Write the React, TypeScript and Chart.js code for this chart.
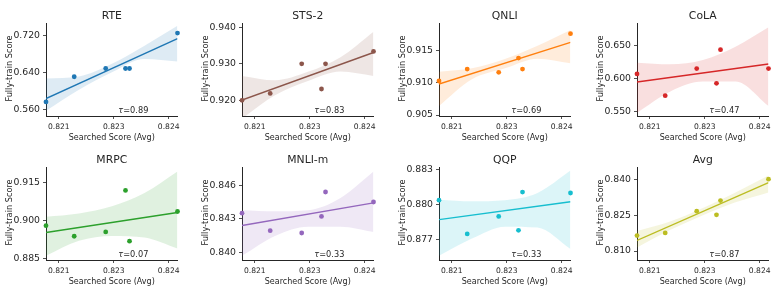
import React, { useEffect, useRef } from "react";
import { Chart, registerables } from "chart.js";

Chart.register(...registerables);

// ---- shared x data ----
const searchedScores = [0.82065, 0.82142, 0.82228, 0.82282, 0.82293, 0.82424];
const bandX = [0.82065, 0.82155, 0.82245, 0.82334, 0.82424];
const xTicks = [0.821, 0.8225, 0.824];
const xMin = 0.82065;
const xMax = 0.82424;

const taskNames = ["RTE", "STS-2", "QNLI", "CoLA", "MRPC", "MNLI-m", "QQP", "Avg"];
const taskColors = ["#1f77b4", "#8c564b", "#ff7f0e", "#d62728", "#2ca02c", "#9467bd", "#17becf", "#bcbd22"];
const kendallTau = ["0.89", "0.83", "0.69", "0.47", "0.07", "0.33", "0.33", "0.87"];

// ---- per-task fully-train scores, CI band edges, y ticks and ranges ----
const rteScores = [0.5771, 0.6314, 0.6493, 0.6493, 0.6493, 0.7257];
const rteUpper = [0.6279, 0.6321, 0.6593, 0.6986, 0.7414];
const rteLower = [0.5579, 0.6036, 0.6414, 0.670, 0.6643];
const rteTicks = [0.56, 0.64, 0.72];
const rteRange = [0.5467, 0.7475];

const stsScores = [0.92, 0.9219, 0.93, 0.9231, 0.93, 0.9334];
const stsUpper = [0.9267, 0.9255, 0.9278, 0.9318, 0.9388];
const stsLower = [0.915, 0.9214, 0.9253, 0.9279, 0.9267];
const stsTicks = [0.92, 0.93, 0.94];
const stsRange = [0.9157, 0.9412];

const qnliScores = [0.91026, 0.91211, 0.9116, 0.91381, 0.91211, 0.91758];
const qnliUpper = [0.9117, 0.91222, 0.91366, 0.91572, 0.91814];
const qnliLower = [0.9064, 0.91052, 0.91222, 0.91371, 0.91299];
const qnliTicks = [0.905, 0.91, 0.915];
const qnliRange = [0.90485, 0.91923];

const colaScores = [0.6071, 0.5742, 0.6152, 0.5929, 0.6439, 0.6152];
const colaUpper = [0.6242, 0.6217, 0.6283, 0.6485, 0.6778];
const colaLower = [0.5485, 0.5803, 0.5955, 0.5955, 0.5586];
const colaTicks = [0.55, 0.6, 0.65];
const colaRange = [0.5434, 0.6843];

const mrpcScores = [0.89803, 0.89384, 0.89555, 0.91205, 0.89188, 0.90367];
const mrpcUpper = [0.90157, 0.90288, 0.90576, 0.911, 0.91952];
const mrpcLower = [0.88611, 0.89201, 0.89397, 0.89332, 0.889];
const mrpcTicks = [0.885, 0.9, 0.915];
const mrpcRange = [0.88441, 0.92135];

const mnliScores = [0.8435, 0.84193, 0.84172, 0.84321, 0.84541, 0.84451];
const mnliUpper = [0.84377, 0.84368, 0.84377, 0.84487, 0.84725];
const mnliLower = [0.83967, 0.84146, 0.84229, 0.84229, 0.84181];
const mnliTicks = [0.84, 0.843, 0.846];
const mnliRange = [0.83929, 0.84766];

const qqpScores = [0.8804, 0.87751, 0.87901, 0.87782, 0.8811, 0.88102];
const qqpUpper = [0.88045, 0.88031, 0.8804, 0.88102, 0.88294];
const qqpLower = [0.87564, 0.87711, 0.87813, 0.87805, 0.87621];
const qqpTicks = [0.877, 0.88, 0.883];
const qqpRange = [0.87527, 0.88325];

const avgScores = [0.81647, 0.81757, 0.82665, 0.82514, 0.83106, 0.84];
const avgUpper = [0.81839, 0.82239, 0.82803, 0.83449, 0.84151];
const avgLower = [0.81151, 0.81881, 0.825, 0.83037, 0.8345];
const avgTicks = [0.81, 0.825, 0.84];
const avgRange = [0.80628, 0.84509];

const allScores = [rteScores, stsScores, qnliScores, colaScores, mrpcScores, mnliScores, qqpScores, avgScores];
const allUpper = [rteUpper, stsUpper, qnliUpper, colaUpper, mrpcUpper, mnliUpper, qqpUpper, avgUpper];
const allLower = [rteLower, stsLower, qnliLower, colaLower, mrpcLower, mnliLower, qqpLower, avgLower];
const allTicks = [rteTicks, stsTicks, qnliTicks, colaTicks, mrpcTicks, mnliTicks, qqpTicks, avgTicks];
const allRanges = [rteRange, stsRange, qnliRange, colaRange, mrpcRange, mnliRange, qqpRange, avgRange];

const TEXT = "#262626";
const FONT = "'DejaVu Sans', sans-serif";
const CANVAS_W = 184;
const CANVAS_H = 145;
const colLefts = [0, 196, 393, 591];
const rowTops = [0, 144];

function hexToRgba(hex: string, a: number) {
  const n = parseInt(hex.slice(1), 16);
  return `rgba(${(n >> 16) & 255},${(n >> 8) & 255},${n & 255},${a})`;
}

function fitLine(xs: number[], ys: number[]) {
  const n = xs.length;
  const mx = xs.reduce((s, v) => s + v, 0) / n;
  const my = ys.reduce((s, v) => s + v, 0) / n;
  let sxy = 0;
  let sxx = 0;
  for (let i = 0; i < n; i++) {
    sxy += (xs[i] - mx) * (ys[i] - my);
    sxx += (xs[i] - mx) * (xs[i] - mx);
  }
  const b = sxy / sxx;
  const a = my - b * mx;
  return [
    { x: xMin, y: a + b * xMin },
    { x: xMax, y: a + b * xMax },
  ];
}

const panelText = {
  id: "panelText",
  afterDraw(chart: any, _args: any, opts: any) {
    const { ctx, chartArea } = chart;
    const cx = (chartArea.left + chartArea.right) / 2;
    const cy = (chartArea.top + chartArea.bottom) / 2;
    ctx.save();
    ctx.fillStyle = TEXT;
    // title
    ctx.font = `10.8px ${FONT}`;
    ctx.textAlign = "center";
    ctx.textBaseline = "alphabetic";
    ctx.fillText(opts.title, cx, chartArea.top - 3.7);
    // x title
    ctx.font = `8px ${FONT}`;
    ctx.textBaseline = "middle";
    ctx.fillText("Searched Score (Avg)", cx, chartArea.bottom + 21.5);
    // tau
    const tx = chartArea.left + 0.55 * (chartArea.right - chartArea.left);
    const ty = chartArea.bottom - 3;
    ctx.textAlign = "left";
    ctx.textBaseline = "alphabetic";
    ctx.font = `italic 8.2px ${FONT}`;
    ctx.fillText("τ", tx, ty);
    const w = ctx.measureText("τ").width;
    ctx.font = `8.2px ${FONT}`;
    ctx.fillText("=" + opts.tau, tx + w, ty);
    // y title
    ctx.translate(chartArea.left - 36.5, cy - 1);
    ctx.rotate(-Math.PI / 2);
    ctx.font = `8.2px ${FONT}`;
    ctx.textAlign = "center";
    ctx.textBaseline = "middle";
    ctx.fillText("Fully-train Score", 0, 0);
    ctx.restore();
  },
};

function Panel({ idx }: { idx: number }) {
  const ref = useRef<HTMLCanvasElement>(null);
  useEffect(() => {
    const color = taskColors[idx];
    const scores = allScores[idx];
    const upper = allUpper[idx];
    const lower = allLower[idx];
    const yTicks = allTicks[idx];
    const [yMin, yMax] = allRanges[idx];
    const chart = new Chart(ref.current as HTMLCanvasElement, {
      type: "line",
      data: {
        datasets: [
          {
            data: searchedScores.map((x, i) => ({ x, y: scores[i] })),
            showLine: false,
            pointRadius: 2.4,
            pointBackgroundColor: color,
            pointBorderWidth: 0,
            clip: 6,
            order: 0,
          } as any,
          {
            data: fitLine(searchedScores, scores),
            borderColor: color,
            borderWidth: 1.4,
            pointRadius: 0,
            order: 1,
          },
          {
            data: bandX.map((x, i) => ({ x, y: upper[i] })),
            borderWidth: 0,
            pointRadius: 0,
            cubicInterpolationMode: "monotone",
            fill: false,
            order: 2,
          },
          {
            data: bandX.map((x, i) => ({ x, y: lower[i] })),
            borderWidth: 0,
            pointRadius: 0,
            cubicInterpolationMode: "monotone",
            fill: "-1",
            backgroundColor: hexToRgba(color, 0.15),
            order: 3,
          },
        ],
      },
      options: {
        responsive: false,
        devicePixelRatio: 1,
        animation: false,
        layout: { padding: { left: 0, right: 6.5, top: 23, bottom: 0 } },
        plugins: {
          legend: { display: false },
          tooltip: { enabled: false },
          panelText: { title: taskNames[idx], tau: kendallTau[idx] },
        } as any,
        scales: {
          x: {
            type: "linear",
            min: xMin,
            max: xMax,
            afterBuildTicks: (s: any) => {
              s.ticks = xTicks.map((v) => ({ value: v }));
            },
            afterFit: (s: any) => {
              s.height = 29;
            },
            ticks: {
              callback: (v: any) => Number(v).toFixed(3),
              font: { family: FONT, size: 7.6 },
              color: TEXT,
              padding: 3.4,
              maxRotation: 0,
              autoSkip: false,
            },
            grid: {
              display: true,
              drawOnChartArea: false,
              drawTicks: true,
              tickLength: 3,
              tickColor: TEXT,
              tickWidth: 0.8,
            },
            border: { display: true, color: TEXT, width: 1 },
          },
          y: {
            type: "linear",
            min: yMin,
            max: yMax,
            afterBuildTicks: (s: any) => {
              s.ticks = yTicks.map((v) => ({ value: v }));
            },
            afterFit: (s: any) => {
              s.width = 46;
            },
            ticks: {
              callback: (v: any) => Number(v).toFixed(3),
              font: { family: FONT, size: 9.3 },
              color: TEXT,
              padding: 3,
              autoSkip: false,
            },
            grid: {
              display: true,
              drawOnChartArea: false,
              drawTicks: true,
              tickLength: 3,
              tickColor: TEXT,
              tickWidth: 0.8,
            },
            border: { display: true, color: TEXT, width: 1 },
          },
        },
      } as any,
      plugins: [panelText],
    });
    return () => chart.destroy();
  }, [idx]);
  const left = colLefts[idx % 4];
  const top = rowTops[Math.floor(idx / 4)];
  return (
    <canvas
      ref={ref}
      width={CANVAS_W}
      height={CANVAS_H}
      style={{ position: "absolute", left, top, width: CANVAS_W, height: CANVAS_H }}
    />
  );
}

export default function App() {
  return (
    <div
      style={{
        position: "absolute",
        left: 0,
        top: 0,
        width: 775,
        height: 290,
        background: "#ffffff",
        overflow: "hidden",
      }}
    >
      {taskNames.map((_, i) => (
        <Panel key={i} idx={i} />
      ))}
    </div>
  );
}
